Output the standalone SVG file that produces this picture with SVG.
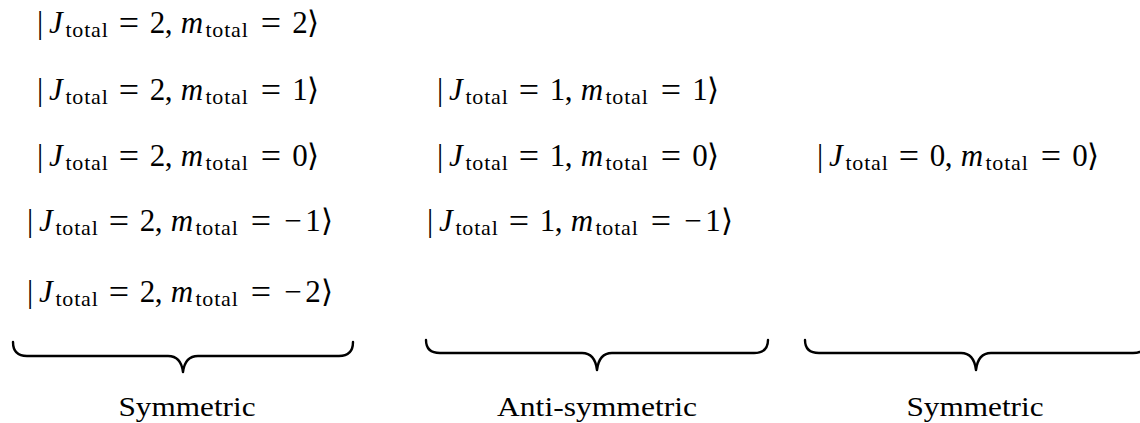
<svg xmlns="http://www.w3.org/2000/svg" width="1140" height="423" viewBox="0 0 1140 423">
<style>
.k{font-family:"Liberation Serif","DejaVu Serif",serif;font-size:31px;fill:#000;text-anchor:middle}
.i{font-style:italic}
.s{font-size:22px;letter-spacing:0.8px}
.eq{font-size:36px}
.lab{font-family:"Liberation Serif","DejaVu Serif",serif;font-size:28px;fill:#000;text-anchor:middle}
.brace{fill:none;stroke:#000;stroke-width:2.4;stroke-linecap:round;stroke-linejoin:round}
</style>
<rect width="1140" height="423" fill="#fff"/>
<g id="j2m2"><text class="k" y="33"><tspan x="40">|</tspan><tspan class="i" x="56">J</tspan><tspan class="s" x="87" y="37">total</tspan><tspan class="eq" x="129" y="35">=</tspan><tspan x="157.5" y="33">2</tspan><tspan x="168.5">,</tspan><tspan class="i" x="192">m</tspan><tspan class="s" x="227" y="37">total</tspan><tspan class="eq" x="271" y="35">=</tspan><tspan x="300" y="33">2</tspan><tspan x="313">⟩</tspan></text></g>
<g id="j2m1"><text class="k" y="100"><tspan x="40">|</tspan><tspan class="i" x="56">J</tspan><tspan class="s" x="87" y="104">total</tspan><tspan class="eq" x="129" y="102">=</tspan><tspan x="157.5" y="100">2</tspan><tspan x="168.5">,</tspan><tspan class="i" x="192">m</tspan><tspan class="s" x="227" y="104">total</tspan><tspan class="eq" x="271" y="102">=</tspan><tspan x="300" y="100">1</tspan><tspan x="313">⟩</tspan></text></g>
<g id="j2m0"><text class="k" y="166"><tspan x="40">|</tspan><tspan class="i" x="56">J</tspan><tspan class="s" x="87" y="170">total</tspan><tspan class="eq" x="129" y="168">=</tspan><tspan x="157.5" y="166">2</tspan><tspan x="168.5">,</tspan><tspan class="i" x="192">m</tspan><tspan class="s" x="227" y="170">total</tspan><tspan class="eq" x="271" y="168">=</tspan><tspan x="300" y="166">0</tspan><tspan x="313">⟩</tspan></text></g>
<g id="j2mn1"><text class="k" y="231"><tspan x="30">|</tspan><tspan class="i" x="46">J</tspan><tspan class="s" x="77" y="235">total</tspan><tspan class="eq" x="119" y="233">=</tspan><tspan x="147.5" y="231">2</tspan><tspan x="158.5">,</tspan><tspan class="i" x="182">m</tspan><tspan class="s" x="217" y="235">total</tspan><tspan class="eq" x="261" y="233">=</tspan><tspan x="293" y="231">−</tspan><tspan x="313">1</tspan><tspan x="327">⟩</tspan></text></g>
<g id="j2mn2"><text class="k" y="302"><tspan x="30">|</tspan><tspan class="i" x="46">J</tspan><tspan class="s" x="77" y="306">total</tspan><tspan class="eq" x="119" y="304">=</tspan><tspan x="147.5" y="302">2</tspan><tspan x="158.5">,</tspan><tspan class="i" x="182">m</tspan><tspan class="s" x="217" y="306">total</tspan><tspan class="eq" x="261" y="304">=</tspan><tspan x="293" y="302">−</tspan><tspan x="313">2</tspan><tspan x="327">⟩</tspan></text></g>
<g id="j1m1"><text class="k" y="100"><tspan x="440">|</tspan><tspan class="i" x="456">J</tspan><tspan class="s" x="487" y="104">total</tspan><tspan class="eq" x="529" y="102">=</tspan><tspan x="557.5" y="100">1</tspan><tspan x="568.5">,</tspan><tspan class="i" x="592">m</tspan><tspan class="s" x="627" y="104">total</tspan><tspan class="eq" x="671" y="102">=</tspan><tspan x="700" y="100">1</tspan><tspan x="713">⟩</tspan></text></g>
<g id="j1m0"><text class="k" y="166"><tspan x="440">|</tspan><tspan class="i" x="456">J</tspan><tspan class="s" x="487" y="170">total</tspan><tspan class="eq" x="529" y="168">=</tspan><tspan x="557.5" y="166">1</tspan><tspan x="568.5">,</tspan><tspan class="i" x="592">m</tspan><tspan class="s" x="627" y="170">total</tspan><tspan class="eq" x="671" y="168">=</tspan><tspan x="700" y="166">0</tspan><tspan x="713">⟩</tspan></text></g>
<g id="j1mn1"><text class="k" y="231"><tspan x="430">|</tspan><tspan class="i" x="446">J</tspan><tspan class="s" x="477" y="235">total</tspan><tspan class="eq" x="519" y="233">=</tspan><tspan x="547.5" y="231">1</tspan><tspan x="558.5">,</tspan><tspan class="i" x="582">m</tspan><tspan class="s" x="617" y="235">total</tspan><tspan class="eq" x="661" y="233">=</tspan><tspan x="693" y="231">−</tspan><tspan x="713">1</tspan><tspan x="727">⟩</tspan></text></g>
<g id="j0m0"><text class="k" y="166"><tspan x="820">|</tspan><tspan class="i" x="836">J</tspan><tspan class="s" x="867" y="170">total</tspan><tspan class="eq" x="909" y="168">=</tspan><tspan x="937.5" y="166">0</tspan><tspan x="948.5">,</tspan><tspan class="i" x="972">m</tspan><tspan class="s" x="1007" y="170">total</tspan><tspan class="eq" x="1051" y="168">=</tspan><tspan x="1080" y="166">0</tspan><tspan x="1093">⟩</tspan></text></g>
<g id="braces">
<path class="brace" d="M13,342 Q13,356 27,356 L168,356 Q181,356 183,372 Q185,356 198,356 L339,356 Q353,356 353,342"/>
<path class="brace" d="M426,340 Q426,353 440,353 L582,353 Q595,353 597,370 Q599,353 612,353 L754,353 Q768,353 768,340"/>
<path class="brace" d="M805,340 Q805,353 819,353 L961,353 Q974,353 976,370 Q978,353 991,353 L1133,353 Q1147,353 1147,340"/>
</g>
<g id="labels">
<text class="lab" x="187" y="416" textLength="137" lengthAdjust="spacingAndGlyphs">Symmetric</text>
<text class="lab" x="597" y="416" textLength="200" lengthAdjust="spacingAndGlyphs">Anti-symmetric</text>
<text class="lab" x="975" y="416" textLength="137" lengthAdjust="spacingAndGlyphs">Symmetric</text>
</g>
</svg>
